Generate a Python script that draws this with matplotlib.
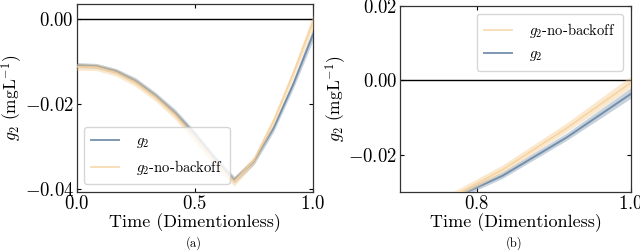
import numpy as np
import matplotlib
matplotlib.use("Agg")
import matplotlib.pyplot as plt

# ======= data =======
TIME = [0.0, 1/12, 2/12, 3/12, 4/12, 5/12, 6/12, 7/12, 8/12, 9/12, 10/12, 11/12, 1.0]
G2 = [-0.0108, -0.0110, -0.0122, -0.0145, -0.0179, -0.0220, -0.0271, -0.0327, -0.0378,
      -0.0335, -0.0256, -0.0153, -0.0036]
G2_STD = [0.0006, 0.0006, 0.0006, 0.0007, 0.0007, 0.0008, 0.0008, 0.0008, 0.0008,
          0.0008, 0.0009, 0.0010, 0.0014]
G2_NB = [-0.0112, -0.0113, -0.0126, -0.0150, -0.0184, -0.0226, -0.0280, -0.0336, -0.0383,
         -0.0332, -0.0240, -0.0128, -0.0006]
G2_NB_STD = [0.0008, 0.0008, 0.0008, 0.0009, 0.0009, 0.0010, 0.0010, 0.0010, 0.0010,
             0.0010, 0.0011, 0.0012, 0.0016]

LBL_G2 = r"$g_2$"
LBL_NB = r"$g_2$-no-backoff"
XLABEL = "Time (Dimentionless)"
YLABEL = r"$g_2$ (mgL$^{-1}$)"

# ======= style =======
BLUE = "#5f7fa0"
ORANGE = "#f7cf96"
TICK_FS = 13.5
LABEL_FS = 13
YLABEL_FS = 12.5
LEG_FS = 10.5

plt.rcParams["font.family"] = ["cmr10", "DejaVu Serif"]
plt.rcParams["mathtext.fontset"] = "cm"
plt.rcParams["axes.formatter.use_mathtext"] = True

t = np.array(TIME)
g2 = np.array(G2)
g2s = np.array(G2_STD)
nb = np.array(G2_NB)
nbs = np.array(G2_NB_STD)

fig = plt.figure(figsize=(6.4, 2.5), dpi=100)
ax1 = fig.add_axes([0.120, 0.232, 0.369, 0.752])
ax2 = fig.add_axes([0.625, 0.232, 0.361, 0.744])

LEG_KW = dict(fontsize=LEG_FS, frameon=True, edgecolor="#cccccc", handlelength=1.9,
              handletextpad=1.2, labelspacing=0.5, borderpad=0.5, borderaxespad=0)


def mt(vals, fmt):
    return ["$" + ("-" if v < 0 else "") + format(abs(v), fmt) + "$" for v in vals]


def draw(ax, order):
    ax.axhline(0, color="black", lw=1.0, zorder=1)
    handles = {}
    ax.fill_between(t, g2 - g2s, g2 + g2s, color=BLUE, alpha=0.35, lw=0, zorder=2)
    (h1,) = ax.plot(t, g2, color=BLUE, lw=1.4, alpha=0.8, zorder=3)
    handles[LBL_G2] = h1
    ax.fill_between(t, nb - nbs, nb + nbs, color=ORANGE, alpha=0.45, lw=0, zorder=4)
    (h2,) = ax.plot(t, nb, color=ORANGE, lw=1.2, alpha=0.8, zorder=5)
    handles[LBL_NB] = h2
    ax.tick_params(direction="in", top=True, right=True, labelsize=TICK_FS, length=3, pad=2)
    for s in ax.spines.values():
        s.set_color("#333333")
        s.set_linewidth(0.9)
    ax.set_xlabel(XLABEL, fontsize=LABEL_FS, labelpad=0.5)
    ax.set_ylabel(YLABEL, fontsize=YLABEL_FS, labelpad=0.5)
    return [handles[k] for k in order], order


h, l = draw(ax1, [LBL_G2, LBL_NB])
ax1.set_xlim(0, 1)
ax1.set_ylim(-0.0407, 0.0036)
xt = [0.0, 0.5, 1.0]
ax1.set_xticks(xt)
ax1.set_xticklabels(mt(xt, ".1f"))
yt = [0.0, -0.02, -0.04]
ax1.set_yticks(yt)
ax1.set_yticklabels(mt(yt, ".2f"))
ax1.legend(h, l, loc="lower left", bbox_to_anchor=(0.03, 0.043), **LEG_KW)

h, l = draw(ax2, [LBL_NB, LBL_G2])
ax2.set_xlim(0.7, 1.0)
ax2.set_ylim(-0.03, 0.02)
xt = [0.8, 1.0]
ax2.set_xticks(xt)
ax2.set_xticklabels(mt(xt, ".1f"))
yt = [0.02, 0.0, -0.02]
ax2.set_yticks(yt)
ax2.set_yticklabels(mt(yt, ".2f"))
ax2.legend(h, l, loc="upper right", bbox_to_anchor=(0.965, 0.957), **LEG_KW)

fig.text(0.302, 0.012, "(a)", ha="center", fontsize=9)
fig.text(0.804, 0.012, "(b)", ha="center", fontsize=9, fontweight="bold")

fig.savefig("out.png", dpi=100)
